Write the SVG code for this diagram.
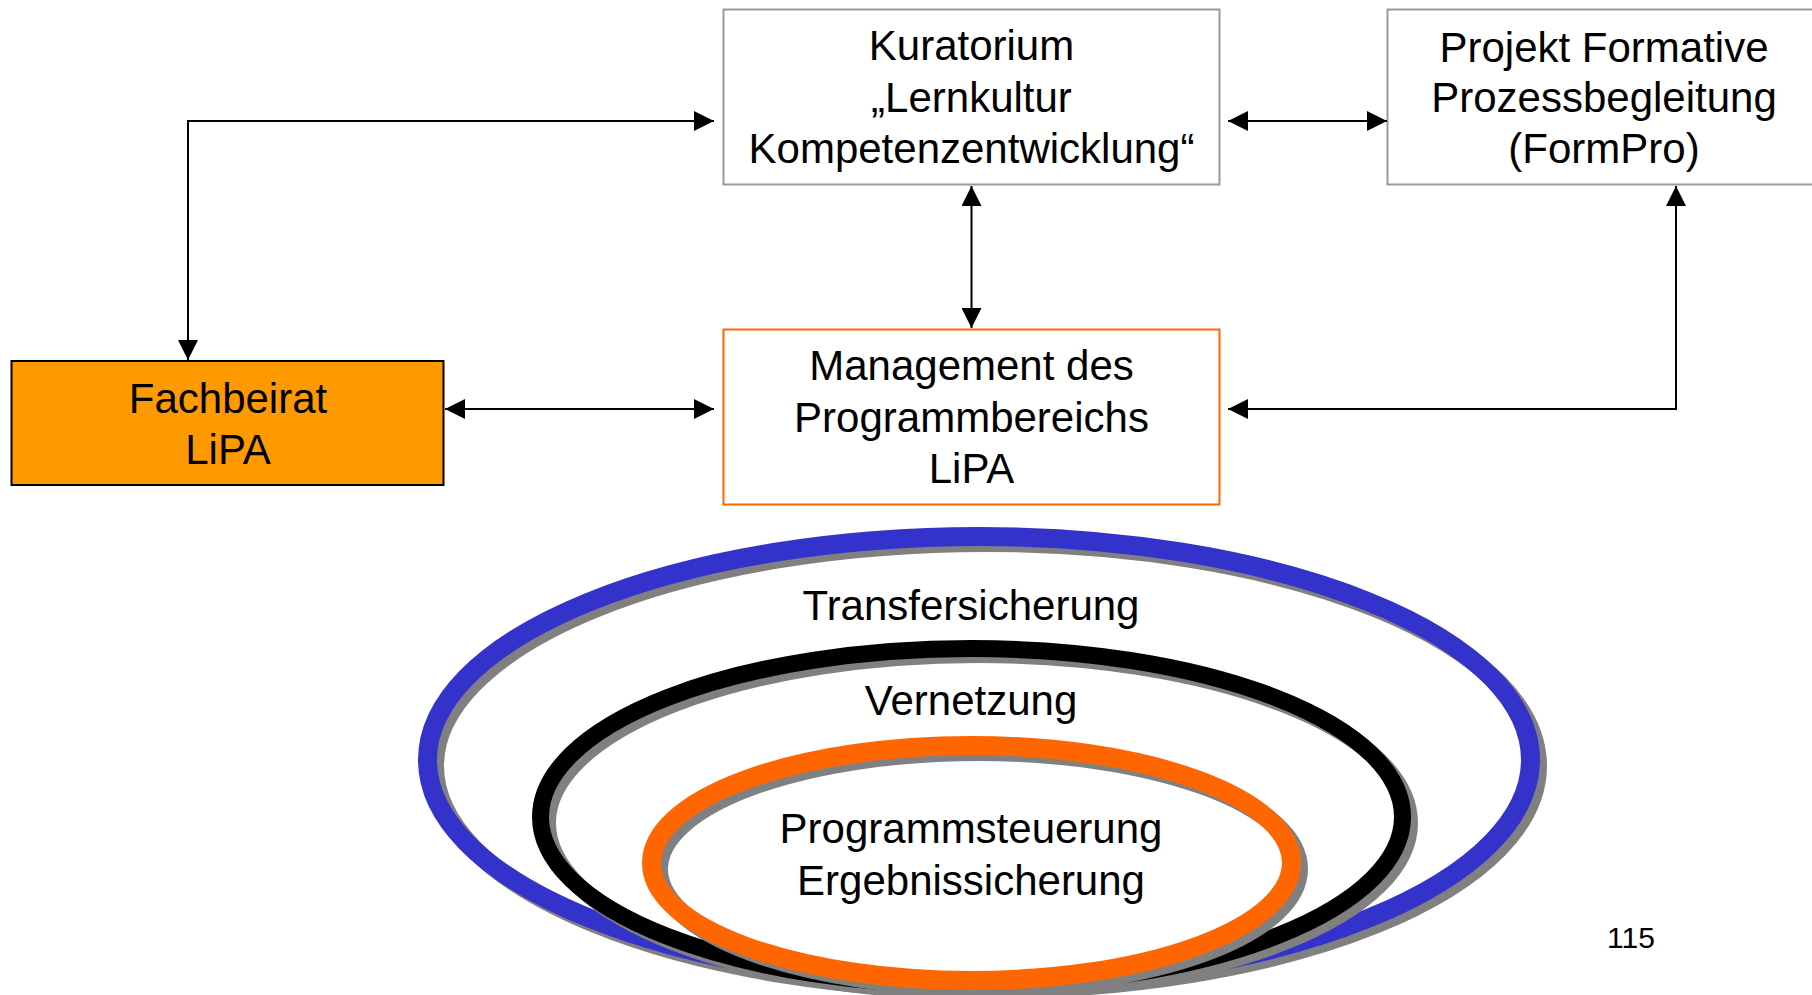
<svg xmlns="http://www.w3.org/2000/svg" width="1812" height="995" viewBox="0 0 1812 995">
<defs>
<style>
text{font-family:"Liberation Sans",Arial,sans-serif;font-size:42px;fill:#000;text-anchor:middle}
.box{fill:#fff;stroke:#999;stroke-width:2}
.conn{fill:none;stroke:#000;stroke-width:2;marker-start:url(#ah);marker-end:url(#ah)}
.ring{fill:none}
.shadow{fill:none;stroke:#808080}
</style>
<marker id="ah" markerUnits="userSpaceOnUse" markerWidth="20" markerHeight="20" refX="20" refY="10" orient="auto-start-reverse" viewBox="0 0 20 20">
<path d="M0,0 L20,10 L0,20 Z" fill="#000"/>
</marker>
</defs>
<rect width="1812" height="995" fill="#fff"/>

<g id="rings">
<ellipse class="shadow" cx="986" cy="766" rx="551.5" ry="223.5" stroke-width="19"/>
<ellipse class="ring" cx="979" cy="760" rx="551.5" ry="223.5" stroke="#3333CC" stroke-width="19"/>
<ellipse class="shadow" cx="978.5" cy="823" rx="431" ry="168.5" stroke-width="17"/>
<ellipse class="ring" cx="971.5" cy="817" rx="431" ry="168.5" stroke="#000" stroke-width="17"/>
<ellipse class="shadow" cx="978.5" cy="869" rx="320" ry="117.5" stroke-width="19"/>
<ellipse class="ring" cx="971.5" cy="863" rx="320" ry="117.5" stroke="#FF6600" stroke-width="19"/>
<text x="971" y="620">Transfersicherung</text>
<text x="971" y="715">Vernetzung</text>
<text x="971" y="843">Programmsteuerung</text>
<text x="971" y="895">Ergebnissicherung</text>
</g>

<g id="kuratorium">
<rect class="box" x="723.5" y="9.5" width="496" height="175"/>
<text x="971.5" y="60">Kuratorium</text>
<text x="971.5" y="111.5">„Lernkultur</text>
<text x="971.5" y="163">Kompetenzentwicklung“</text>
</g>

<g id="formpro">
<rect class="box" x="1387.5" y="9.5" width="436" height="175"/>
<text x="1604" y="61.5">Projekt Formative</text>
<text x="1604" y="112">Prozessbegleitung</text>
<text x="1604" y="163">(FormPro)</text>
</g>

<g id="management">
<rect class="box" x="723.5" y="329.5" width="496" height="175" style="stroke:#FF6600"/>
<text x="971.5" y="380">Management des</text>
<text x="971.5" y="432">Programmbereichs</text>
<text x="971.5" y="483">LiPA</text>
</g>

<g id="fachbeirat">
<rect x="11.5" y="361" width="432" height="124" fill="#FF9900" stroke="#000" stroke-width="2"/>
<text x="228" y="412.5">Fachbeirat</text>
<text x="228" y="464">LiPA</text>
</g>

<g id="connectors">
<path class="conn" d="M188,360 L188,121 L714,121"/>
<path class="conn" d="M445,409 L714,409"/>
<path class="conn" d="M971.5,186 L971.5,328"/>
<path class="conn" d="M1228,121 L1387,121"/>
<path class="conn" d="M1676,186 L1676,409 L1228,409"/>
</g>

<g id="page-number">
<text x="1631" y="948" style="font-size:30px">115</text>
</g>
</svg>
